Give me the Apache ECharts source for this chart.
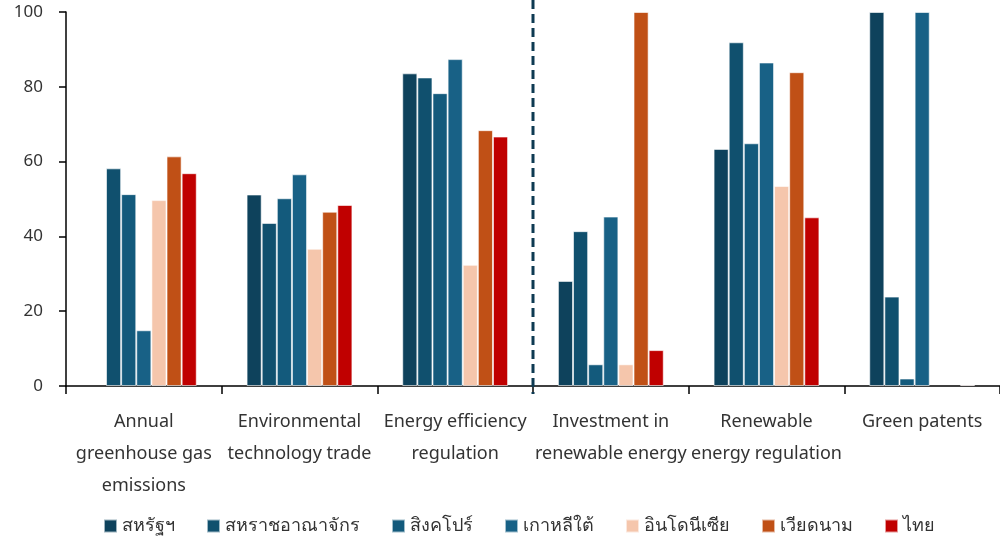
<!DOCTYPE html>
<html><head><meta charset="utf-8">
<script src="https://cdn.jsdelivr.net/npm/echarts@6/dist/echarts.min.js"></script>
<style>html,body{margin:0;padding:0;background:#fff}#c{width:1000px;height:537px}</style>
</head><body><div id="c"></div>
<script>
const categories = ['Annual\ngreenhouse gas\nemissions','Environmental\ntechnology trade','Energy efficiency\nregulation','Investment in\nrenewable energy','Renewable\nenergy regulation','Green patents'];
const seriesNames = ['สหรัฐฯ','สหราชอาณาจักร','สิงคโปร์','เกาหลีใต้','อินโดนีเซีย','เวียดนาม','ไทย'];
const usa       = [null, 51.2, 83.6, 28.1, 63.4, 100];
const uk        = [58.2, 43.6, 82.5, 41.4, 91.9, 23.9];
const singapore = [51.3, 50.2, 78.3, 5.8, 64.9, 2.0];
const korea     = [14.9, 56.6, 87.4, 45.3, 86.5, 100];
const indonesia = [49.7, 36.7, 32.4, 5.8, 53.5, null];
const vietnam   = [61.4, 46.6, 68.4, 100, 83.9, null];
const thailand  = [56.9, 48.4, 66.7, 9.6, 45.1, 0.3];
const yTicks = [0, 20, 40, 60, 80, 100];
const dividerAt = 3; // boundary between 3rd and 4th category

const colors = ['#0e425c','#10506e','#135a7c','#186186','#f5c6ac','#c05016','#c00000'];
const values = [usa, uk, singapore, korea, indonesia, vietnam, thailand];
const FONT = '"Noto Sans", "DejaVu Sans", sans-serif';

const chart = echarts.init(document.getElementById('c'));
chart.setOption({
  animation: false,
  color: colors,
  textStyle: {fontFamily: FONT},
  grid: {left: 66, right: 0, top: 12, bottom: 151, containLabel: false},
  legend: {
    bottom: -3, left: 98, itemWidth: 13, itemHeight: 13, itemGap: 31,
    icon: 'rect',
    textStyle: {fontSize: 18, color: '#333', fontFamily: FONT},
    data: seriesNames
  },
  xAxis: [{
    type: 'category', data: categories,
    axisLine: {lineStyle: {color: '#000', width: 1.5}},
    axisTick: {show: true, length: 8, lineStyle: {color: '#000', width: 1.5}},
    axisLabel: {fontSize: 18, color: '#333', lineHeight: 32, margin: 20, interval: 0}
  }, {
    type: 'value', min: 0, max: categories.length, show: false
  }],
  yAxis: {
    type: 'value', min: 0, max: 100, interval: 20,
    axisLine: {show: true, lineStyle: {color: '#000', width: 1.5}},
    axisTick: {show: true, length: 7, lineStyle: {color: '#000', width: 1.5}},
    splitLine: {show: false},
    axisLabel: {fontSize: 17, color: '#333', margin: 23}
  },
  series: values.map((v, i) => ({
    name: seriesNames[i], type: 'bar', data: v,
    barGap: '0%', barCategoryGap: '32%',
    itemStyle: {color: colors[i], borderColor: 'rgba(255,255,255,0.6)', borderWidth: 1}
  }))
});

function drawDivider() {
  const x = chart.convertToPixel({xAxisIndex: 1}, dividerAt);
  const y0 = chart.convertToPixel({yAxisIndex: 0}, 0);
  const y1 = chart.convertToPixel({yAxisIndex: 0}, 100);
  chart.setOption({graphic: [{
    type: 'line', shape: {x1: x, y1: y1 - 12, x2: x, y2: y0 + 8},
    style: {stroke: '#0e3a52', lineWidth: 3, lineDash: [9, 5]}, z: 10
  }]});
}
drawDivider();
</script></body></html>
